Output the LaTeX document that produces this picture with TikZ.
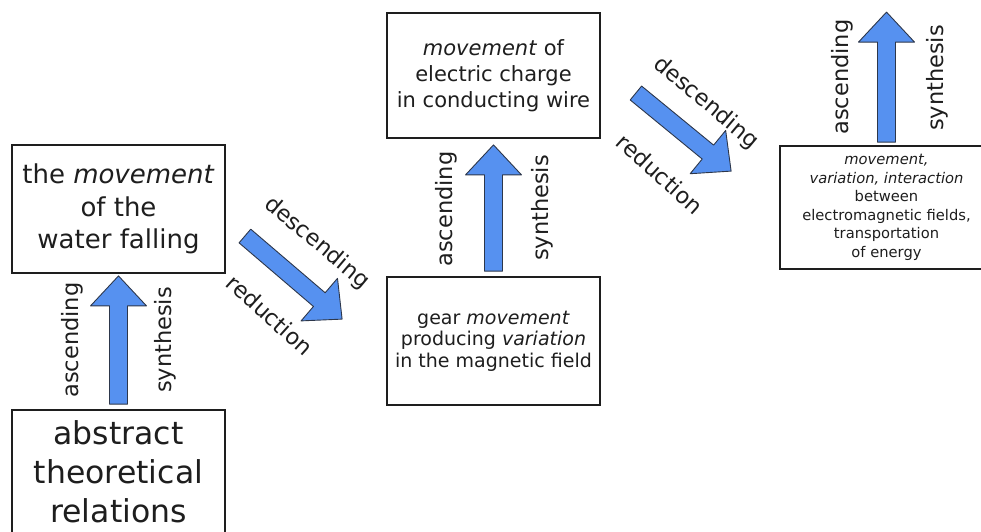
\documentclass[tikz,border=0pt]{standalone}
\usepackage{fontspec}
\setmainfont{DejaVu Sans}[ItalicFont={DejaVu Sans Oblique}]
\usetikzlibrary{calc}

\definecolor{arrowblue}{RGB}{86,145,240}
\definecolor{arrowline}{RGB}{45,55,75}
\definecolor{ink}{RGB}{30,30,30}

\tikzset{
  box/.style={draw=ink, line width=1.8pt, fill=white, minimum width=213pt,
              inner sep=0pt, align=center, text=ink},
  blk/.style={fill=arrowblue, draw=arrowline, line width=0.9pt, line join=round},
  lbl/.style={font=\fontsize{22.5}{27}\selectfont, inner sep=0pt, text=ink},
}

% block arrow from tail #1 to tip #2: shaft 18pt, head 56pt wide, 30pt long
\newcommand\blockarrow[2]{%
  \draw[blk] ($(#1)!9pt!90:(#2)$)
    -- ($(#2)!30pt!(#1)!9pt!-90:(#1)$)
    -- ($(#2)!30pt!(#1)!28pt!-90:(#1)$)
    -- (#2)
    -- ($(#2)!30pt!(#1)!28pt!90:(#1)$)
    -- ($(#2)!30pt!(#1)!9pt!90:(#1)$)
    -- ($(#1)!9pt!-90:(#2)$) -- cycle;}

\begin{document}
\begin{tikzpicture}[x=1pt, y=-1pt]
  \useasboundingbox (0,0) rectangle (981,531);
  \clip (0,0) rectangle (981,531);

  % boxes
  \node[box, minimum height=124pt, font=\fontsize{31.5}{39}\selectfont]
    (b0) at (118.5,472) {abstract\\theoretical\\relations};
  \node[box, minimum height=128pt, font=\fontsize{26}{32.5}\selectfont]
    (b1) at (118.5,209) {the \textit{movement}\\of the\\water falling};
  \node[box, minimum height=128pt, font=\fontsize{19}{21.5}\selectfont]
    (b2) at (493.5,341) {gear \textit{movement}\\producing \textit{variation}\\in the magnetic field};
  \node[box, minimum height=125pt, font=\fontsize{21}{26}\selectfont]
    (b3) at (493.5,75.5) {\textit{movement} of\\electric charge\\in conducting wire};
  \node[box, minimum height=123pt, font=\fontsize{14.7}{18.5}\selectfont]
    (b4) at (886.5,207.5) {\textit{movement,}\\\textit{variation, interaction}\\between\\electromagnetic fields,\\transportation\\of energy};

  % arrow end points
  \coordinate (a1t) at ($(b0.north)+(0,-5)$);
  \coordinate (a1h) at ($(b1.south)+(0,2)$);
  \coordinate (d1t) at ($(b1.east)+(19,27)$);
  \coordinate (d1h) at ($(b2.north west)+(-44,43)$);
  \coordinate (a2t) at ($(b2.north)+(0,-5)$);
  \coordinate (a2h) at ($(b3.south)+(0,6)$);
  \coordinate (d2t) at ($(b3.east)+(35,17.5)$);
  \coordinate (d2h) at ($(b4.north west)+(-48,26)$);
  \coordinate (a3t) at ($(b4.north)+(0,-3)$);
  \coordinate (a3h) at ($(b4.north)+(0,-133)$);

  % block arrows
  \blockarrow{a1t}{a1h}
  \blockarrow{d1t}{d1h}
  \blockarrow{a2t}{a2h}
  \blockarrow{d2t}{d2h}
  \blockarrow{a3t}{a3h}

  % arrow labels
  \node[lbl, rotate=90] (l1a) at (72,340) {ascending};
  \node[lbl, rotate=90] (l1s) at (165,340) {synthesis};
  \node[lbl, rotate=-40] (l1d) at (317,243) {descending};
  \node[lbl, rotate=-42] (l1r) at (270,315) {reduction};
  \node[lbl, rotate=90] (l2a) at (446,209) {ascending};
  \node[lbl, rotate=90] (l2s) at (542,208) {synthesis};
  \node[lbl, rotate=-40] (l2d) at (706,103) {descending};
  \node[lbl, rotate=-42] (l2r) at (660,174) {reduction};
  \node[lbl, rotate=90] (l3a) at (842,77) {ascending};
  \node[lbl, rotate=90] (l3s) at (937,78) {synthesis};
\end{tikzpicture}
\end{document}
